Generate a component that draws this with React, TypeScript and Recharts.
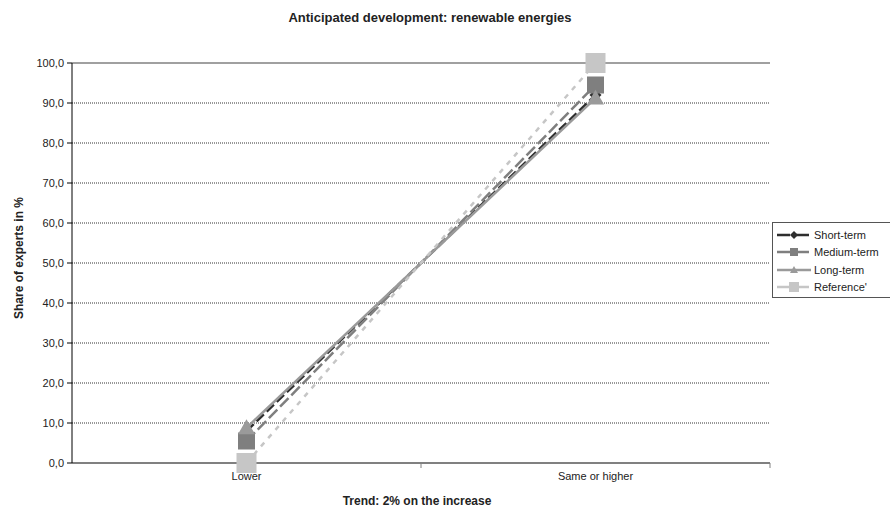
import { LineChart, Line, XAxis, YAxis, CartesianGrid, ReferenceLine } from 'recharts';

const categories = ['Lower', 'Same or higher'];
const shortTerm = [8.0, 92.0];
const mediumTerm = [5.5, 94.5];
const longTerm = [8.8, 91.2];
const reference = [0.0, 100.0];
const yTicks = [0, 10, 20, 30, 40, 50, 60, 70, 80, 90, 100];

const data = categories.map((trend, i) => ({
  trend,
  short: shortTerm[i],
  medium: mediumTerm[i],
  long: longTerm[i],
  reference: reference[i],
}));

const W = 890;
const H = 509;
const PLOT = { left: 72, right: 770, top: 63, bottom: 463 };
const X_AXIS_H = 20;
const FONT = '"Liberation Sans", Arial, sans-serif';

const series = [
  { key: 'short', name: 'Short-term', color: '#2e2e2e', dash: '10 4', shape: 'diamond', size: 6 },
  { key: 'medium', name: 'Medium-term', color: '#7f7f7f', dash: '12 4', shape: 'square', size: 8.5 },
  { key: 'long', name: 'Long-term', color: '#9a9a9a', dash: undefined, shape: 'triangle', size: 8.5 },
  { key: 'reference', name: "Reference'", color: '#c6c6c6', dash: '5 6', shape: 'square', size: 10 },
];

function Marker({ cx, cy, shape, size, color }: any) {
  if (cx == null || cy == null) return null;
  if (shape === 'diamond') {
    return <polygon points={`${cx},${cy - size} ${cx + size},${cy} ${cx},${cy + size} ${cx - size},${cy}`} fill={color} />;
  }
  if (shape === 'triangle') {
    return <polygon points={`${cx},${cy - size} ${cx + size},${cy + size * 0.75} ${cx - size},${cy + size * 0.75}`} fill={color} />;
  }
  return <rect x={cx - size} y={cy - size} width={size * 2} height={size * 2} fill={color} />;
}

// category labels sit mid-band, tick marks go on the band edges
function CategoryTick({ x, payload }: any) {
  const half = (PLOT.right - PLOT.left) / categories.length / 2;
  return (
    <g>
      <line x1={x + half} x2={x + half} y1={PLOT.bottom} y2={PLOT.bottom + 5} stroke="#808080" strokeWidth={1} />
      <text x={x} y={PLOT.bottom + 17} textAnchor="middle" fontSize={11} fill="#222" fontFamily={FONT}>
        {payload.value}
      </text>
    </g>
  );
}

function LegendBox() {
  return (
    <div
      style={{
        position: 'absolute',
        left: 772,
        top: 222,
        width: 118,
        height: 76,
        border: '1px solid #555',
        borderRight: 'none',
        background: '#fff',
        boxSizing: 'border-box',
        padding: '3px 0 0 2px',
        fontFamily: FONT,
        fontSize: 11,
        color: '#222',
      }}
    >
      {series.map((s) => (
        <div key={s.key} style={{ display: 'flex', alignItems: 'center', height: 17.5 }}>
          <svg width={38} height={14}>
            <line x1={2} x2={36} y1={7} y2={7} stroke={s.color} strokeWidth={2.5} strokeDasharray={s.dash ? '13 6' : undefined} />
            <Marker cx={19} cy={7} shape={s.shape} size={s.key === 'reference' ? 5 : 4} color={s.color} />
          </svg>
          <span style={{ marginLeft: 1, whiteSpace: 'nowrap' }}>{s.name}</span>
        </div>
      ))}
    </div>
  );
}

export default function App() {
  return (
    <div style={{ position: 'relative', width: W, height: H, background: '#fff', fontFamily: FONT, overflow: 'hidden' }}>
      <style>{'body{margin:0}'}</style>
      <LineChart
        width={W}
        height={H}
        data={data}
        margin={{ top: PLOT.top, right: W - PLOT.right, bottom: H - PLOT.bottom - X_AXIS_H, left: 0 }}
      >
        <text x={430} y={22} textAnchor="middle" fontSize={13} fontWeight="bold" fill="#222" fontFamily={FONT}>
          Anticipated development: renewable energies
        </text>
        <text x={417} y={505} textAnchor="middle" fontSize={12} fontWeight="bold" fill="#222" fontFamily={FONT}>
          Trend: 2% on the increase
        </text>
        <text
          x={23}
          y={258}
          textAnchor="middle"
          fontSize={12}
          fontWeight="bold"
          fill="#222"
          fontFamily={FONT}
          transform="rotate(-90 23 258)"
        >
          Share of experts in %
        </text>
        <CartesianGrid vertical={false} stroke="#333" strokeDasharray="1 1" />
        <XAxis
          dataKey="trend"
          scale="band"
          height={X_AXIS_H}
          tick={<CategoryTick />}
          tickLine={false}
          axisLine={{ stroke: '#808080', strokeWidth: 2 }}
          interval={0}
        />
        <XAxis xAxisId="frame" type="number" domain={[0, 2]} hide />
        <YAxis
          width={PLOT.left}
          domain={[0, 100]}
          ticks={yTicks}
          interval={0}
          tickFormatter={(v: number) => v.toFixed(1).replace('.', ',')}
          tick={{ fontSize: 11, fill: '#222', fontFamily: FONT }}
          tickSize={5}
          tickMargin={3}
          tickLine={{ stroke: '#000' }}
          axisLine={{ stroke: '#000' }}
        />
        <ReferenceLine y={100} stroke="#a0a0a0" strokeWidth={2} />
        <ReferenceLine xAxisId="frame" x={2} stroke="#a0a0a0" strokeWidth={2} />
        {series.map((s) => (
          <Line
            key={s.key}
            type="linear"
            dataKey={s.key}
            name={s.name}
            stroke={s.color}
            strokeWidth={2.5}
            strokeDasharray={s.dash}
            dot={(p: any) => <Marker key={`${s.key}-${p.index}`} cx={p.cx} cy={p.cy} shape={s.shape} size={s.size} color={s.color} />}
            activeDot={false}
            isAnimationActive={false}
          />
        ))}
      </LineChart>
      <LegendBox />
    </div>
  );
}
